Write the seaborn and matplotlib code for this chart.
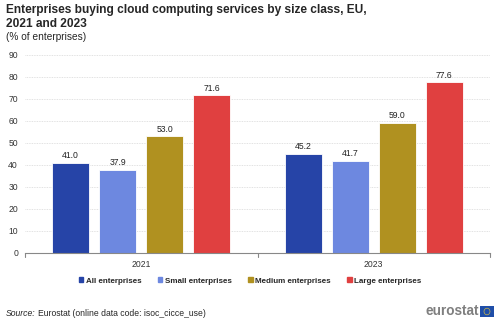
import matplotlib
matplotlib.use("Agg")
import matplotlib.pyplot as plt
import seaborn as sns
import pandas as pd
import numpy as np
from matplotlib.patches import Rectangle, Circle

years = ["2021", "2023"]
size_classes = ["All enterprises", "Small enterprises", "Medium enterprises", "Large enterprises"]
all_ent = [41.0, 45.2]
small_ent = [37.9, 41.7]
medium_ent = [53.0, 59.0]
large_ent = [71.6, 77.6]
colors = ["#2644A7", "#6D88E0", "#B09120", "#E04040"]

rows = []
for cls, vals in zip(size_classes, [all_ent, small_ent, medium_ent, large_ent]):
    for y, v in zip(years, vals):
        rows.append({"year": y, "cls": cls, "value": v})
df = pd.DataFrame(rows)

sns.set_style("white")
plt.rcParams['font.family'] = ['Liberation Sans', 'DejaVu Sans']

fig = plt.figure(figsize=(5.0, 3.22), dpi=100)
ax = fig.add_axes([25/500, 1-253/322, 465/500, 198/322])

sns.barplot(data=df, x="year", y="value", hue="cls", hue_order=size_classes,
            palette=colors, saturation=1, width=0.81, gap=0.21, ax=ax, legend=False,
            edgecolor="#ffffff", linewidth=0.6, errorbar=None)

for cont in ax.containers:
    ax.bar_label(cont, fmt="%.1f", padding=2, fontsize=6.2, color="#222222")

ax.set_ylim(0, 90)
ax.set_xlim(-0.5, 1.5)
ax.set_yticks(range(0, 91, 10))
ax.tick_params(axis='y', length=0, labelsize=6.2, colors="#333333", pad=5)
ax.tick_params(axis='x', length=0, labelsize=6.2, colors="#333333", pad=5)
ax.set_xlabel("")
ax.set_ylabel("")
ax.yaxis.grid(True, color="#d8d8d8", linestyle=(0, (1, 1)), linewidth=0.6)
ax.set_axisbelow(True)
for s in ["top", "right", "left"]:
    ax.spines[s].set_visible(False)
ax.spines["bottom"].set_color("#888888")
ax.spines["bottom"].set_linewidth(0.8)
for xb in [-0.5, 0.5, 1.5]:
    ax.plot([xb, xb], [0, -1.6], color="#888888", lw=0.8, clip_on=False)

# titles
fig.text(6/500, 1-4/322, "Enterprises buying cloud computing services by size class, EU,\n2021 and 2023",
         fontsize=8.6, fontweight="bold", va="top", ha="left", linespacing=1.2)
fig.text(6/500, 1-32/322, "(% of enterprises)", fontsize=7.3, va="top", ha="left")

# legend
handles = [Rectangle((0, 0), 1, 1, color=c) for c in colors]
fig.legend(handles, size_classes, loc="center", bbox_to_anchor=(0.5, 1-281/322),
           ncol=4, frameon=False, handlelength=0.6, handleheight=0.6,
           handletextpad=0.3, columnspacing=2.0, prop={'weight': 'bold', 'size': 5.8})

# source
fig.canvas.draw()
r = fig.canvas.get_renderer()
t1 = fig.text(6/500, 1-314/322, "Source:", fontsize=6.2, style="italic", va="center", ha="left")
bb = t1.get_window_extent(renderer=r)
fig.text((bb.x1 + 2)/500, 1-314/322, "Eurostat (online data code: isoc_cicce_use)", fontsize=6.2,
         va="center", ha="left")

# eurostat logo
fig.text(479/500, 1-311/322, "eurostat", fontsize=9.8, color="#7f7f7f", fontweight="semibold",
         va="center", ha="right")
lax = fig.add_axes([480/500, 1-317/322, 14/500, 11/322])
lax.set_xlim(0, 1.4); lax.set_ylim(0, 1)
lax.add_patch(Rectangle((0, 0), 1.4, 1, color="#1f4ea8"))
lax.add_patch(Circle((0.7, 0.5), 0.3, fill=False, edgecolor="#c9b54a", lw=0.5))
lax.axis("off")

fig.savefig("out.png", dpi=100)
